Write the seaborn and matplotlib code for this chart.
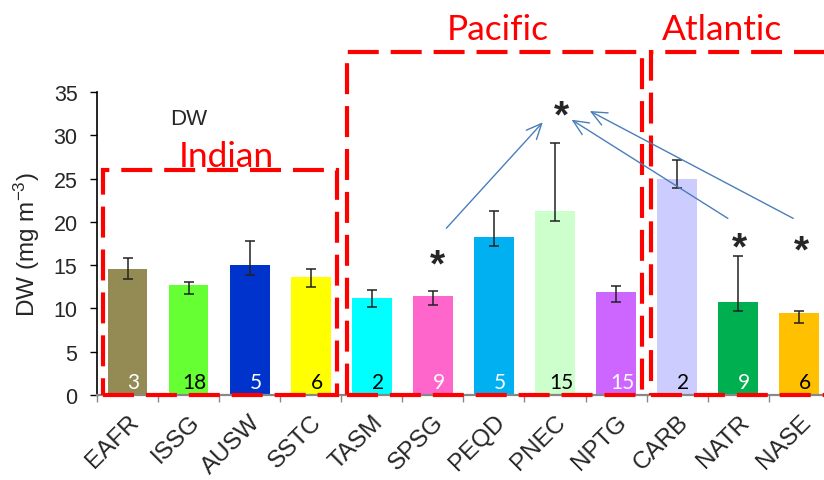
import numpy as np
import pandas as pd
import matplotlib
matplotlib.use("Agg")
import matplotlib.pyplot as plt
from matplotlib.patches import Rectangle
import seaborn as sns

# Sampling regions and dry weight (mean with lower / upper error extents)
regions = ["EAFR", "ISSG", "AUSW", "SSTC", "TASM", "SPSG",
           "PEQD", "PNEC", "NPTG", "CARB", "NATR", "NASE"]
dw_mean = [14.55, 12.7, 15.05, 13.6, 11.2, 11.45, 18.25, 21.25, 11.9, 24.95, 10.75, 9.45]
err_low = [1.2, 1.05, 1.2, 1.1, 1.05, 1.1, 1.05, 1.15, 1.2, 1.05, 1.0, 1.15]
err_high = [1.25, 0.4, 2.75, 0.95, 0.95, 0.6, 3.05, 7.8, 0.65, 2.25, 5.35, 0.3]
n_samples = [3, 18, 5, 6, 2, 9, 5, 15, 15, 2, 9, 6]
n_color = ["white", "black", "white", "black", "black", "white",
           "white", "black", "white", "black", "white", "black"]
bar_colors = ["#948A54", "#66FF33", "#0033CC", "#FFFF00", "#00FFFF", "#FF66CC",
              "#00B0F0", "#CCFFCC", "#CC66FF", "#CCCCFF", "#00B050", "#FFC000"]
yticks = [0, 5, 10, 15, 20, 25, 30, 35]

# Ocean groupings: (name, first x, last x, box top, label x, label y)
oceans = [("Indian", -0.40, 3.43, 26.0, 1.61, 26.45),
          ("Pacific", 3.59, 8.42, 39.6, 6.06, 41.1),
          ("Atlantic", 8.57, 11.7, 39.6, 9.73, 41.1)]

# Significance markers (centre positions) and the comparisons they point to
stars = [(5.08, 16.4), (7.10, 33.5), (10.02, 18.33), (11.04, 17.94)]
links = [((5.22, 19.26), (6.80, 31.5)),
         ((9.83, 20.4), (7.27, 31.8)),
         ((10.90, 20.4), (7.57, 32.8))]

df = pd.DataFrame({"region": regions, "dw": dw_mean})

sns.set_style("white")
plt.rcParams["font.family"] = ["Liberation Sans", "DejaVu Sans"]
plt.rcParams["mathtext.default"] = "regular"

fig = plt.figure(figsize=(8.24, 4.81), dpi=100)
ax = fig.add_axes([0.1177, 0.1767, 0.8894, 0.63])

sns.barplot(data=df, x="region", y="dw", hue="region", palette=bar_colors,
            legend=False, width=0.65, saturation=1, errorbar=None, ax=ax,
            linewidth=0)

x = np.arange(len(regions))
ax.errorbar(x, dw_mean, yerr=[err_low, err_high], fmt="none", ecolor="#222222",
            elinewidth=1.1, capsize=3.3, capthick=1.1, zorder=3)

for xi, n, c in zip(x, n_samples, n_color):
    ax.text(xi + 0.1, 1.45, str(n), ha="center", va="center", color=c,
            fontsize=15, family=["Lato", "DejaVu Sans"], zorder=4)

ax.set_xlim(-0.5, len(regions) - 0.5)
ax.set_ylim(0, 35)
ax.set_yticks(yticks)
ax.set_yticklabels([str(v) for v in yticks], fontsize=15.5)
ax.set_xticks(x)
ax.set_xticklabels(regions, rotation=45, ha="right", rotation_mode="anchor",
                   fontsize=17.5)
ax.set_xticks(np.arange(len(regions) + 1) - 0.5, minor=True)
ax.tick_params(axis="x", which="major", length=0, pad=11)
ax.tick_params(axis="x", which="minor", length=5, width=1, color="#888888",
               direction="out", bottom=True)
ax.tick_params(axis="y", length=5, width=1, color="black", direction="out",
               left=True, pad=9)
ax.set_xlabel("")
ax.set_ylabel("DW (mg m$^{-3}$)", fontsize=17.5, labelpad=8)

for side in ("top", "right"):
    ax.spines[side].set_visible(False)
ax.spines["left"].set_color("black")
ax.spines["left"].set_linewidth(1.2)
ax.spines["bottom"].set_color("#888888")
ax.spines["bottom"].set_linewidth(1.6)

# Dashed outlines around each ocean basin
lw = 3.0
for name, x0, x1, top, lx, ly in oceans:
    ax.add_patch(Rectangle((x0, 0), x1 - x0, top, fill=False, edgecolor="#FF0000",
                           linewidth=lw, linestyle=(0, (22.3 / lw, 8.6 / lw)),
                           clip_on=False, zorder=5))
    ax.text(lx, ly, name, color="#FF0000", fontsize=25.5, ha="center",
            va="baseline", family=["Lato", "DejaVu Sans"], clip_on=False)

ax.text(1.0, 31.96, "DW", fontsize=16, ha="center", va="center")

# Asterisk ink sits high in its em box, so place by baseline below the centre
for sx, sy in stars:
    ax.annotate("*", xy=(sx, sy), xytext=(0, -22), textcoords="offset pixels",
                fontsize=28, fontweight="bold", ha="center", va="baseline",
                zorder=6)

for (x0, y0), (x1, y1) in links:
    ax.annotate("", xy=(x1, y1), xytext=(x0, y0),
                arrowprops=dict(arrowstyle="->,head_length=1.0,head_width=0.45",
                                color="#4A7EBB", lw=1.0, mutation_scale=11,
                                shrinkA=0, shrinkB=0),
                zorder=6)

fig.savefig("out.png", dpi=100)
